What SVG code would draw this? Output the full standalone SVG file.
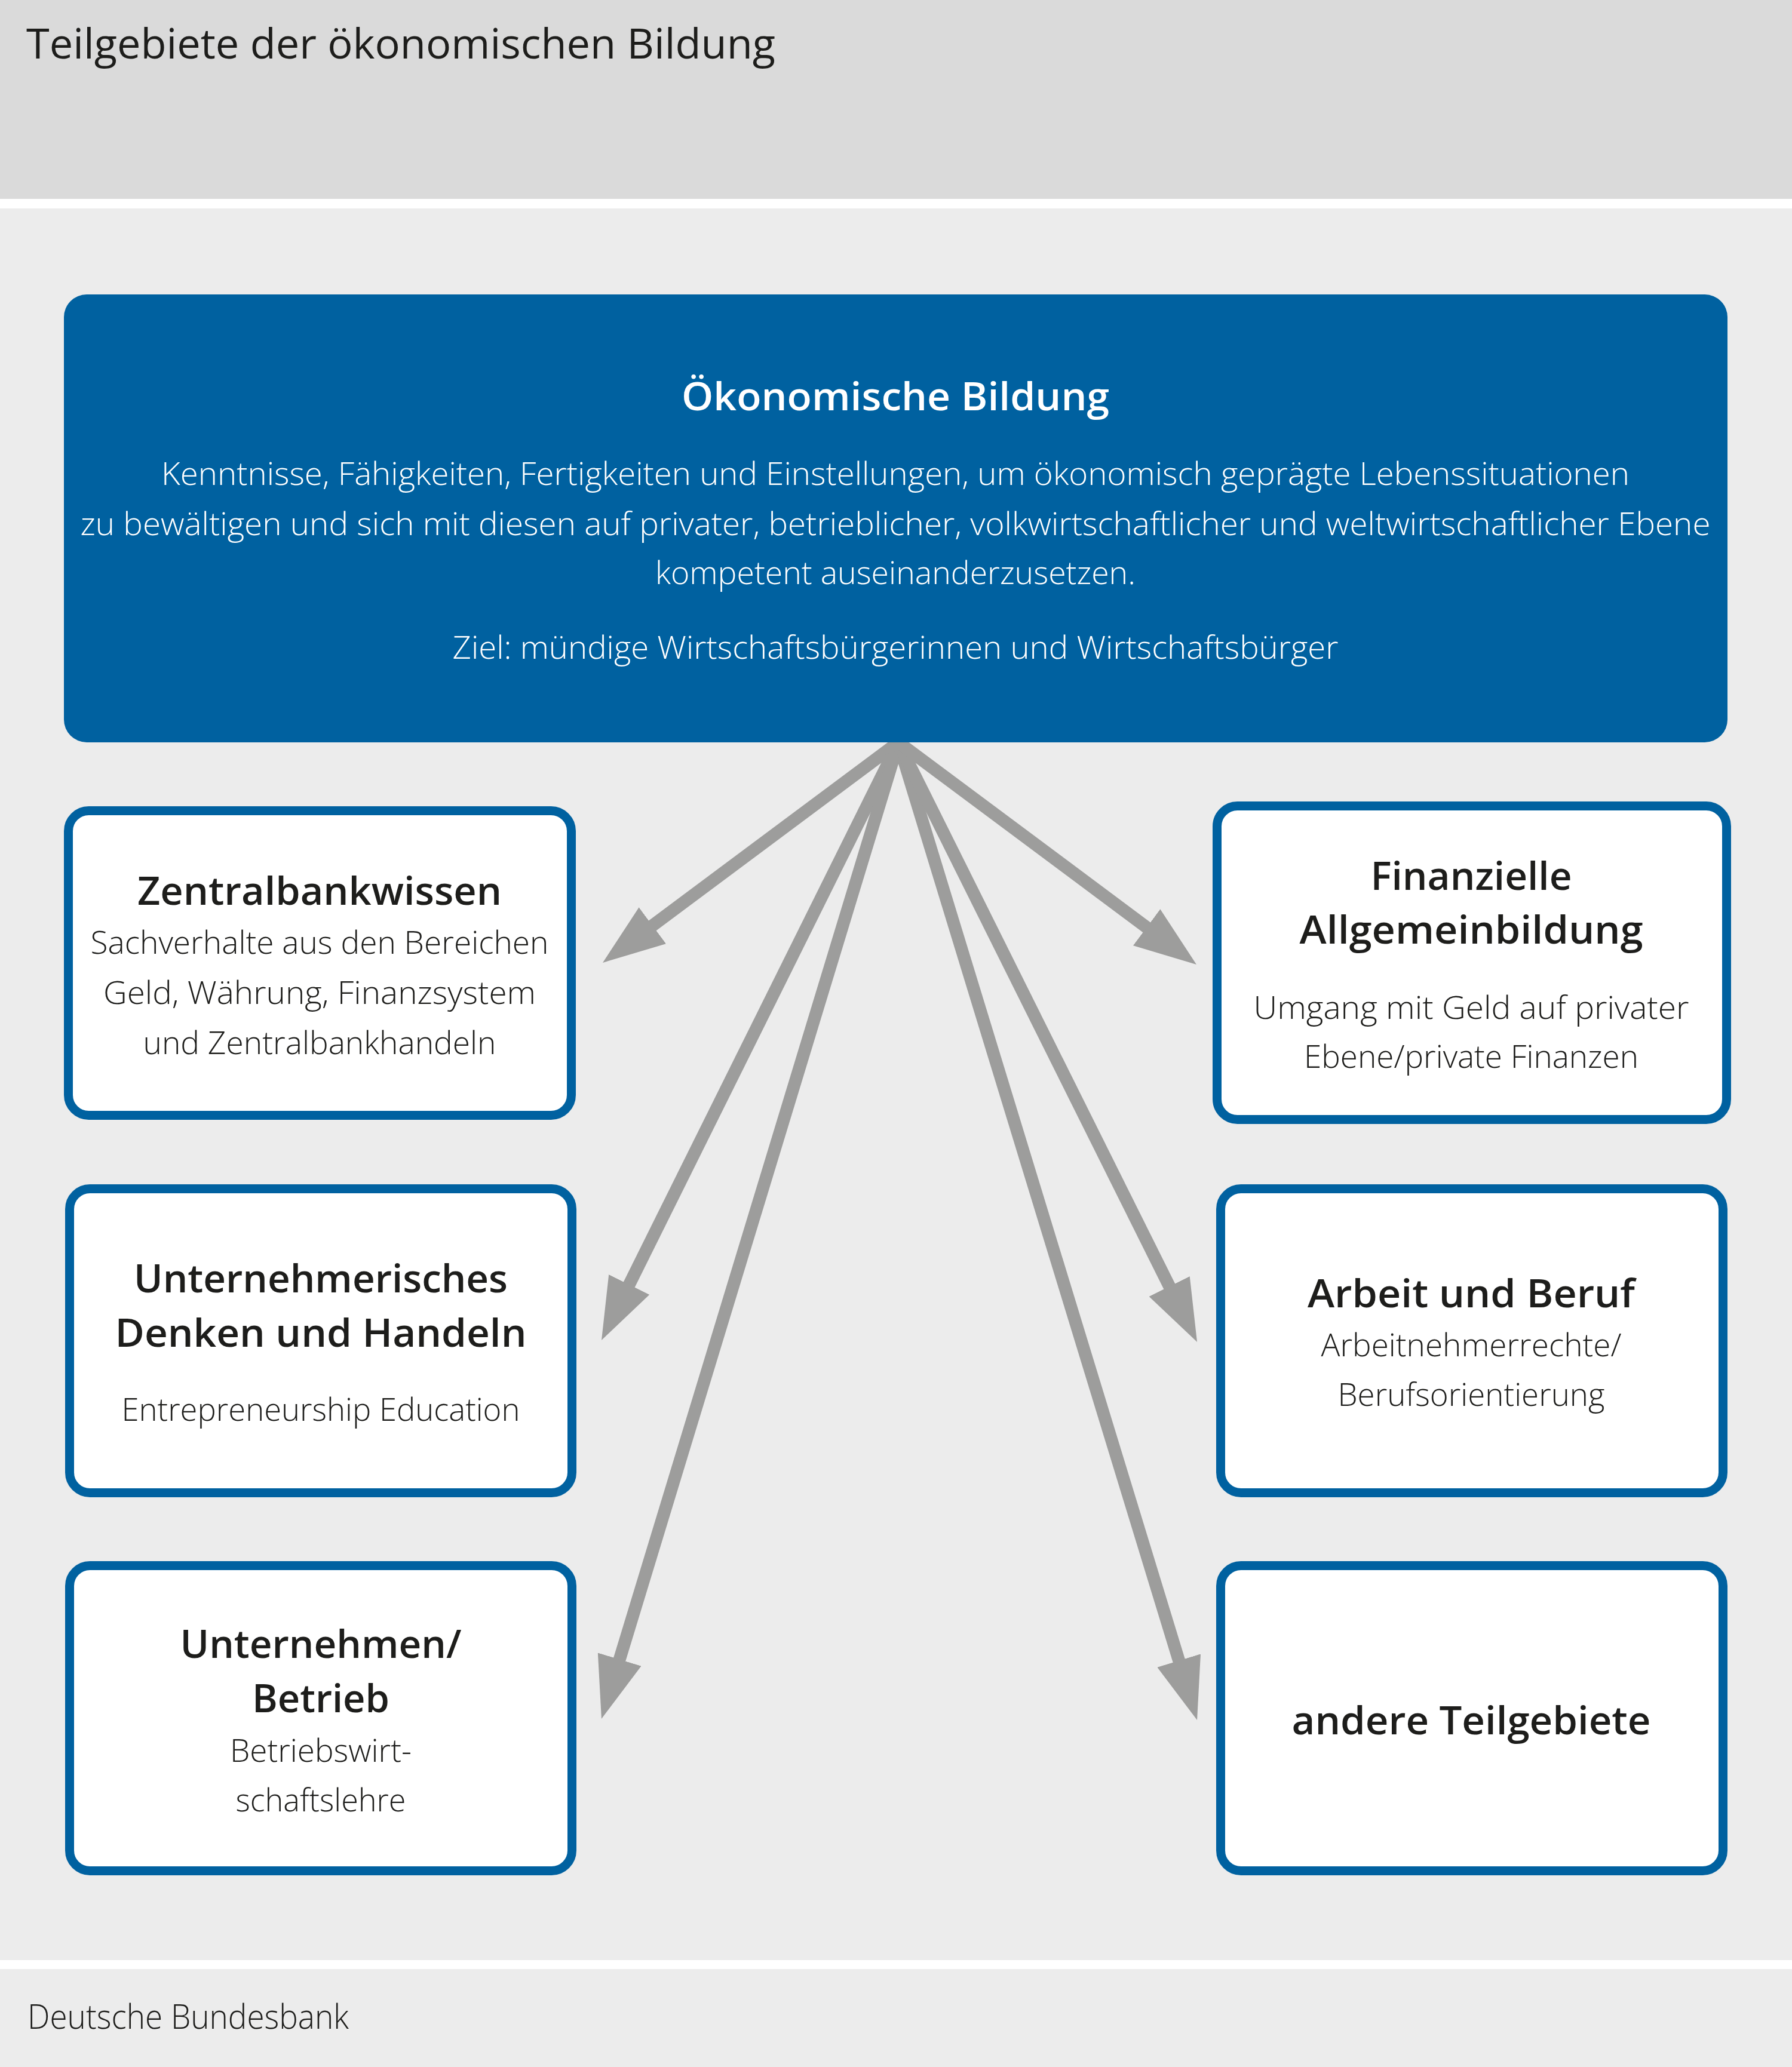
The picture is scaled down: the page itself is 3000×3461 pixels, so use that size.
<svg xmlns="http://www.w3.org/2000/svg" width="3000" height="3461" viewBox="0 0 3000 3461">
<defs>
<style>
.t{font-family:"Open Sans","Noto Sans","Liberation Sans",sans-serif;fill:#1d1d1b}
.h{font-weight:600;font-size:66px;text-anchor:middle}
.b{font-weight:300;font-size:54px;text-anchor:middle}
.w{fill:#ffffff}
.box{fill:#ffffff;stroke:#0061a0;stroke-width:15}
.arr{stroke:#9d9d9c;stroke-width:21;fill:none;marker-end:url(#ah)}
</style>
<marker id="ah" markerUnits="userSpaceOnUse" markerWidth="104" markerHeight="76" viewBox="0 0 104 76" refX="44" refY="38" orient="auto">
<path d="M0,0 L104,38 L0,76 Z" fill="#9d9d9c"/>
</marker>
</defs>
<rect x="0" y="0" width="3000" height="3461" fill="#ffffff"/>
<rect x="0" y="0" width="3000" height="333" fill="#dadada"/>
<rect x="0" y="349" width="3000" height="2933" fill="#ececec"/>
<rect x="0" y="3297" width="3000" height="164" fill="#ececec"/>
<text class="t" x="44" y="98" font-size="70" textLength="1254" lengthAdjust="spacingAndGlyphs">Teilgebiete der ökonomischen Bildung</text>
<text class="t" x="46" y="3397" font-size="57" font-weight="300" textLength="538" lengthAdjust="spacingAndGlyphs">Deutsche Bundesbank</text>

<g id="connectors">
<line class="arr" x1="1516" y1="1234" x2="1057.1" y2="1576.1"/>
<line class="arr" x1="1510.7" y1="1229.6" x2="1033.7" y2="2190.3"/>
<line class="arr" x1="1508.4" y1="1228.6" x2="1024.4" y2="2820.6"/>
<line class="arr" x1="1499.6" y1="1228.7" x2="1986.5" y2="2822.6"/>
<line class="arr" x1="1497.3" y1="1229.6" x2="1977.3" y2="2193.3"/>
<line class="arr" x1="1492" y1="1234" x2="1954.9" y2="1579.1"/>
</g>

<g id="oekonomische-bildung">
<rect x="107" y="493" width="2785" height="750" rx="38" fill="#0061a0"/>
<text class="t h w" x="1499" y="687" textLength="716" lengthAdjust="spacingAndGlyphs">Ökonomische Bildung</text>
<text class="t b w" x="1499" y="812" textLength="2458" lengthAdjust="spacingAndGlyphs">Kenntnisse, Fähigkeiten, Fertigkeiten und Einstellungen, um ökonomisch geprägte Lebenssituationen</text>
<text class="t b w" x="1499" y="896" textLength="2729" lengthAdjust="spacingAndGlyphs">zu bewältigen und sich mit diesen auf privater, betrieblicher, volkwirtschaftlicher und weltwirtschaftlicher Ebene</text>
<text class="t b w" x="1499" y="978" textLength="804" lengthAdjust="spacingAndGlyphs">kompetent auseinanderzusetzen.</text>
<text class="t b w" x="1499" y="1103" textLength="1483" lengthAdjust="spacingAndGlyphs">Ziel: mündige Wirtschaftsbürgerinnen und Wirtschaftsbürger</text>
</g>

<g id="zentralbankwissen">
<rect class="box" x="114.5" y="1357.5" width="842" height="510" rx="34"/>
<text class="t h" x="535" y="1515" textLength="610" lengthAdjust="spacingAndGlyphs">Zentralbankwissen</text>
<text class="t b" x="535" y="1597" textLength="767" lengthAdjust="spacingAndGlyphs">Sachverhalte aus den Bereichen</text>
<text class="t b" x="535" y="1681" textLength="724" lengthAdjust="spacingAndGlyphs">Geld, Währung, Finanzsystem</text>
<text class="t b" x="535" y="1765" textLength="591" lengthAdjust="spacingAndGlyphs">und Zentralbankhandeln</text>
</g>

<g id="finanzielle-allgemeinbildung">
<rect class="box" x="2037.5" y="1349.5" width="853" height="525" rx="34"/>
<text class="t h" x="2463" y="1490" textLength="337" lengthAdjust="spacingAndGlyphs">Finanzielle</text>
<text class="t h" x="2463" y="1580" textLength="575" lengthAdjust="spacingAndGlyphs">Allgemeinbildung</text>
<text class="t b" x="2463" y="1706" textLength="729" lengthAdjust="spacingAndGlyphs">Umgang mit Geld auf privater</text>
<text class="t b" x="2463" y="1788" textLength="560" lengthAdjust="spacingAndGlyphs">Ebene/private Finanzen</text>
</g>

<g id="unternehmerisches-denken">
<rect class="box" x="116.5" y="1990.5" width="841" height="509" rx="34"/>
<text class="t h" x="537" y="2164" textLength="626" lengthAdjust="spacingAndGlyphs">Unternehmerisches</text>
<text class="t h" x="537" y="2255" textLength="689" lengthAdjust="spacingAndGlyphs">Denken und Handeln</text>
<text class="t b" x="537" y="2379" textLength="667" lengthAdjust="spacingAndGlyphs">Entrepreneurship Education</text>
</g>

<g id="arbeit-und-beruf">
<rect class="box" x="2043.5" y="1990.5" width="841" height="509" rx="34"/>
<text class="t h" x="2463" y="2189" textLength="548" lengthAdjust="spacingAndGlyphs">Arbeit und Beruf</text>
<text class="t b" x="2463" y="2271" textLength="503" lengthAdjust="spacingAndGlyphs">Arbeitnehmerrechte/</text>
<text class="t b" x="2463" y="2354" textLength="447" lengthAdjust="spacingAndGlyphs">Berufsorientierung</text>
</g>

<g id="unternehmen-betrieb">
<rect class="box" x="116.5" y="2621.5" width="841" height="511" rx="34"/>
<text class="t h" x="537" y="2776" textLength="471" lengthAdjust="spacingAndGlyphs">Unternehmen/</text>
<text class="t h" x="537" y="2867" textLength="230" lengthAdjust="spacingAndGlyphs">Betrieb</text>
<text class="t b" x="537" y="2950" textLength="304" lengthAdjust="spacingAndGlyphs">Betriebswirt-</text>
<text class="t b" x="537" y="3033" textLength="285" lengthAdjust="spacingAndGlyphs">schaftslehre</text>
</g>

<g id="andere-teilgebiete">
<rect class="box" x="2043.5" y="2621.5" width="841" height="511" rx="34"/>
<text class="t h" x="2463" y="2904" textLength="601" lengthAdjust="spacingAndGlyphs">andere Teilgebiete</text>
</g>
</svg>
